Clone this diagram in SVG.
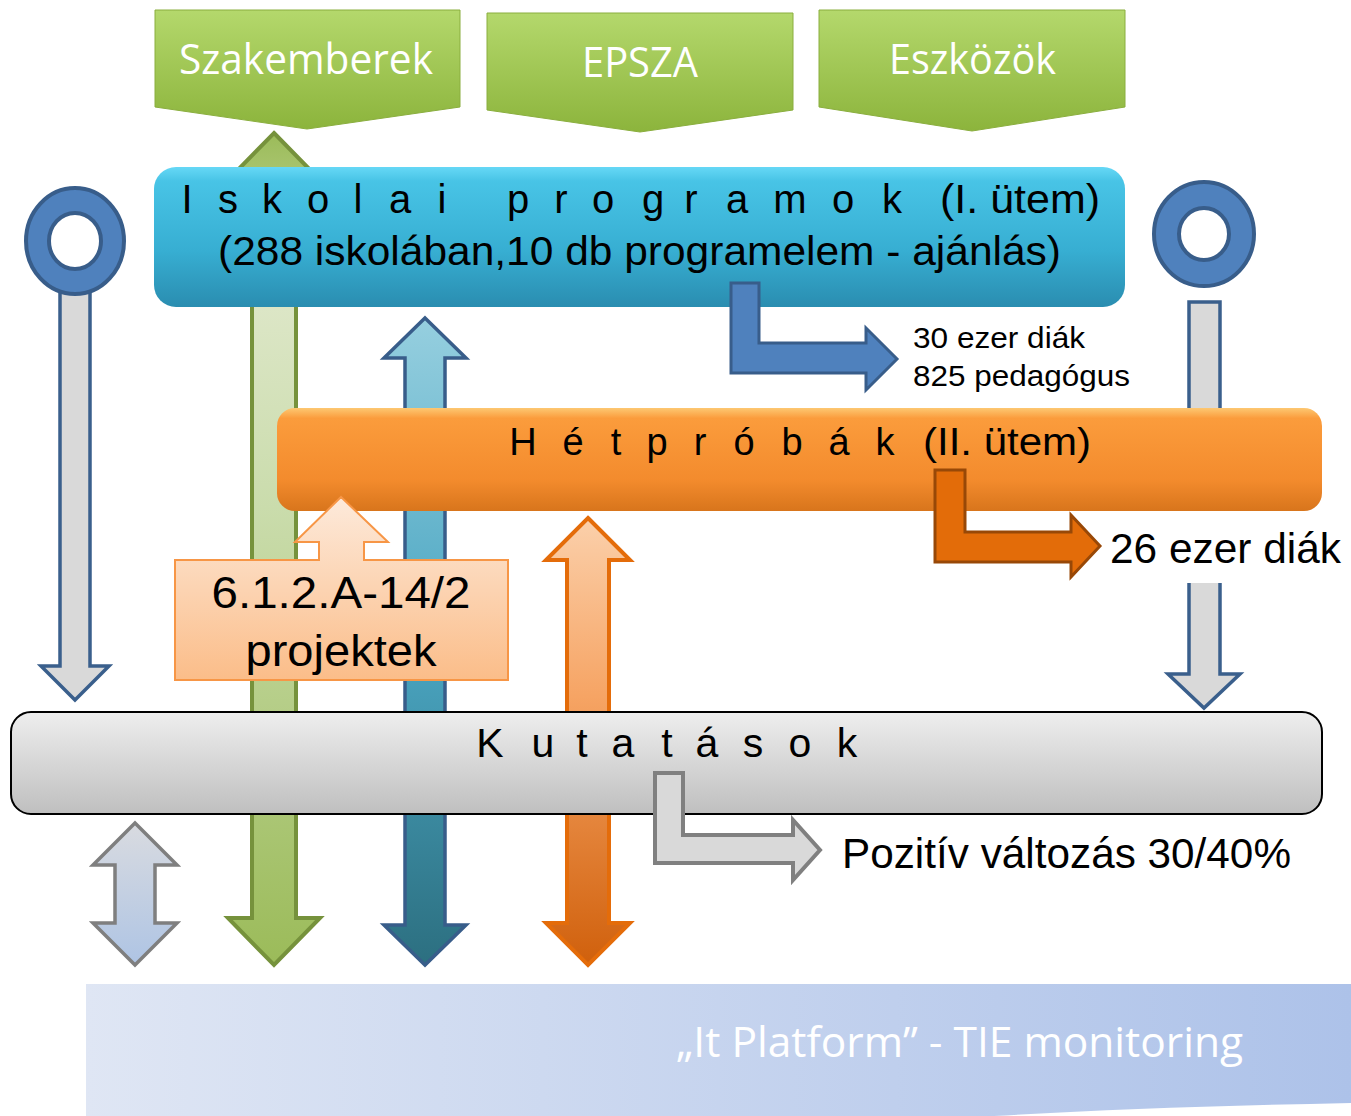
<svg xmlns="http://www.w3.org/2000/svg" width="1351" height="1116" viewBox="0 0 1351 1116">
<defs>
<linearGradient id="gChev" x1="0" y1="0" x2="0" y2="1"><stop offset="0" stop-color="#b4d86c"/><stop offset="1" stop-color="#8cb43c"/></linearGradient>
<linearGradient id="gBlue" x1="0" y1="0" x2="0" y2="1"><stop offset="0" stop-color="#66d8f6"/><stop offset="0.1" stop-color="#48c4e6"/><stop offset="0.6" stop-color="#37aed2"/><stop offset="1" stop-color="#2a8db0"/></linearGradient>
<linearGradient id="gOrange" x1="0" y1="0" x2="0" y2="1"><stop offset="0" stop-color="#fdc872"/><stop offset="0.1" stop-color="#fb9c3c"/><stop offset="0.7" stop-color="#f38b2d"/><stop offset="1" stop-color="#d8751c"/></linearGradient>
<linearGradient id="gGray" x1="0" y1="0" x2="0" y2="1"><stop offset="0" stop-color="#eeeeee"/><stop offset="1" stop-color="#bfbfbf"/></linearGradient>
<linearGradient id="gGreenArrow" x1="0" y1="0" x2="0" y2="1"><stop offset="0" stop-color="#9bbb59"/><stop offset="0.05" stop-color="#a9c56f"/><stop offset="0.21" stop-color="#dce6c6"/><stop offset="0.45" stop-color="#cadcac"/><stop offset="1" stop-color="#9bbb59"/></linearGradient>
<linearGradient id="gTealArrow" x1="0" y1="0" x2="0" y2="1"><stop offset="0" stop-color="#96cfdf"/><stop offset="0.5" stop-color="#4ba6c2"/><stop offset="1" stop-color="#2c6f80"/></linearGradient>
<linearGradient id="gOrangeArrow" x1="0" y1="0" x2="0" y2="1"><stop offset="0" stop-color="#fbd0ab"/><stop offset="0.4" stop-color="#f6a464"/><stop offset="1" stop-color="#d0600c"/></linearGradient>
<linearGradient id="gGrayArrow" x1="0" y1="0" x2="0" y2="1"><stop offset="0" stop-color="#d9dbe0"/><stop offset="1" stop-color="#aec4e4"/></linearGradient>
<linearGradient id="gCallout" x1="0" y1="0" x2="0" y2="1"><stop offset="0" stop-color="#fdeadb"/><stop offset="1" stop-color="#fbbd89"/></linearGradient>
<linearGradient id="gBand" x1="0" y1="0" x2="1" y2="0"><stop offset="0" stop-color="#dfe6f4"/><stop offset="1" stop-color="#adc2e9"/></linearGradient>
</defs>
<style>
.chev{fill:url(#gChev);stroke:#8aae3e;stroke-width:1}
.ctext{font-family:"Open Sans",sans-serif;font-size:42px;fill:#ffffff}
.t{font-family:"Liberation Sans",Arial,sans-serif;fill:#000000}
.ring{fill:#4f81bd;stroke:#385d8a;stroke-width:4;fill-rule:evenodd}
.pin{fill:#d9d9d9;stroke:#3a5f8c;stroke-width:3.5}
</style>

<g id="band">
<path d="M86,984 L1351,984 L1351,1103 Q1150,1107 994,1116 L86,1116 Z" fill="url(#gBand)"/>
<text class="ctext" x="676" y="1057" textLength="567" lengthAdjust="spacingAndGlyphs">„It Platform” - TIE monitoring</text>
</g>

<g id="connectors">
<path id="arrow-green" d="M274,133 L320,180 L296,180 L296,918 L320,918 L274,965 L228,918 L252,918 L252,180 L228,180 Z" fill="url(#gGreenArrow)" stroke="#76923c" stroke-width="4"/>
<path id="arrow-teal" d="M425,318 L466,358 L445,358 L445,925 L466,925 L425,965 L384,925 L405,925 L405,358 L384,358 Z" fill="url(#gTealArrow)" stroke="#385d8a" stroke-width="3.5"/>
<path id="arrow-orange" d="M588,518 L630,560 L609,560 L609,923 L630,923 L588,965 L546,923 L567,923 L567,560 L546,560 Z" fill="url(#gOrangeArrow)" stroke="#e46c0a" stroke-width="4"/>
<path id="arrow-gray" d="M135,823 L177,865 L155,865 L155,923 L177,923 L135,965 L93,923 L115,923 L115,865 L93,865 Z" fill="url(#gGrayArrow)" stroke="#7f7f7f" stroke-width="3.5"/>
<path id="arrow-left" class="pin" d="M60,285 L90,285 L90,666 L109,666 L75,700 L41,666 L60,666 Z"/>
<path id="arrow-right" class="pin" d="M1189,302 L1220,302 L1220,674 L1240,674 L1204,708 L1168,674 L1189,674 Z"/>
</g>

<g id="ring-left">
<path class="ring" d="M26,241 A49,53 0 1,0 124,241 A49,53 0 1,0 26,241 Z M49,241 A26,28 0 1,1 101,241 A26,28 0 1,1 49,241 Z"/>
</g>
<g id="ring-right">
<path class="ring" d="M1154,234 A50,52 0 1,0 1254,234 A50,52 0 1,0 1154,234 Z M1179,234 A25,26 0 1,1 1229,234 A25,26 0 1,1 1179,234 Z"/>
</g>

<g id="szakemberek">
<path class="chev" d="M155,10 L460,10 L460,107 L307,129 L155,107 Z"/>
<text class="ctext" x="179" y="74" textLength="254" lengthAdjust="spacingAndGlyphs">Szakemberek</text>
</g>
<g id="epsza">
<path class="chev" d="M487,13 L793,13 L793,110 L640,132 L487,110 Z"/>
<text class="ctext" x="582" y="77" textLength="116" lengthAdjust="spacingAndGlyphs">EPSZA</text>
</g>
<g id="eszkozok">
<path class="chev" d="M819,10 L1125,10 L1125,107 L972,131 L819,107 Z"/>
<text class="ctext" x="889" y="74" textLength="167" lengthAdjust="spacingAndGlyphs">Eszközök</text>
</g>

<g id="iskolai">
<rect x="154" y="167" width="971" height="140" rx="22" fill="url(#gBlue)"/>
<text class="t" font-size="40" text-anchor="middle" x="187 228 272 318 358 400 442 518 561 603 653 691 737 790 843 892" y="213">Iskolaiprogramok</text>
<text class="t" font-size="40" x="940" y="213" textLength="160" lengthAdjust="spacingAndGlyphs">(I. ütem)</text>
<text class="t" font-size="40" x="218" y="265" textLength="843" lengthAdjust="spacingAndGlyphs">(288 iskolában,10 db programelem - ajánlás)</text>
</g>
<g id="iskolai-result">
<path d="M731,283 L759,283 L759,343 L866,343 L866,328 L897,359 L866,390 L866,373 L731,373 Z" fill="#4f81bd" stroke="#385d8a" stroke-width="3"/>
<text class="t" font-size="30" x="913" y="348" textLength="172" lengthAdjust="spacingAndGlyphs">30 ezer diák</text>
<text class="t" font-size="30" x="913" y="386" textLength="217" lengthAdjust="spacingAndGlyphs">825 pedagógus</text>
</g>

<rect x="1102" y="495" width="249" height="88" fill="#ffffff"/>

<g id="hetprobak">
<rect x="277" y="408" width="1045" height="103" rx="18" fill="url(#gOrange)"/>
<text class="t" font-size="38" text-anchor="middle" x="523 573 616 657 700 744 792 839 885" y="455">Hétpróbák</text>
<text class="t" font-size="38" x="923" y="455" textLength="168" lengthAdjust="spacingAndGlyphs">(II. ütem)</text>
</g>
<g id="hetprobak-result">
<path d="M935,470 L965,470 L965,532 L1071,532 L1071,515 L1100,546 L1071,577 L1071,562 L935,562 Z" fill="#e36c09" stroke="#984807" stroke-width="3"/>
<text class="t" font-size="42" x="1110" y="563" textLength="231" lengthAdjust="spacingAndGlyphs">26 ezer diák</text>
</g>

<g id="projektek">
<path d="M175,560 L319,560 L319,542 L295,542 L341,497 L388,542 L364,542 L364,560 L508,560 L508,680 L175,680 Z" fill="url(#gCallout)" stroke="#f79646" stroke-width="2"/>
<text class="t" font-size="44" text-anchor="middle" x="341" y="608" textLength="259" lengthAdjust="spacingAndGlyphs">6.1.2.A-14/2</text>
<text class="t" font-size="44" text-anchor="middle" x="341" y="666" textLength="191" lengthAdjust="spacingAndGlyphs">projektek</text>
</g>

<g id="kutatasok">
<rect x="11" y="712" width="1311" height="102" rx="20" fill="url(#gGray)" stroke="#000000" stroke-width="2"/>
<text class="t" font-size="41" text-anchor="middle" x="490 543 582 623 667 707 753 800 847" y="757">Kutatások</text>
</g>
<g id="kutatasok-result">
<path d="M655,773 L683,773 L683,835 L793,835 L793,820 L820,850 L793,880 L793,863 L655,863 Z" fill="#d9d9d9" stroke="#808080" stroke-width="4"/>
<text class="t" font-size="42" x="842" y="868" textLength="449" lengthAdjust="spacingAndGlyphs">Pozitív változás 30/40%</text>
</g>
</svg>
